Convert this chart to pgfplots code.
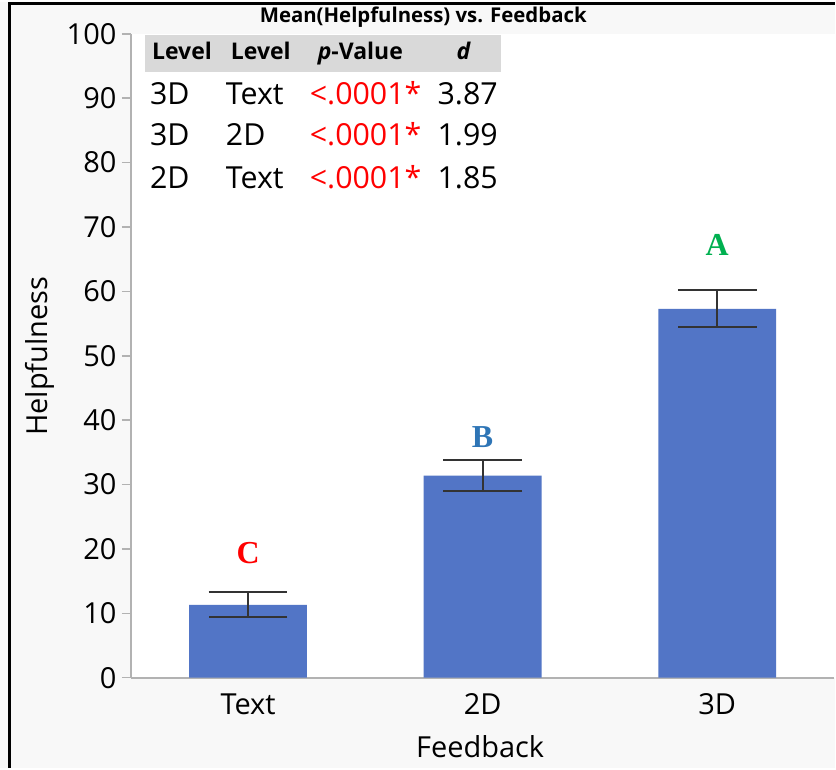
\documentclass[border=0pt]{standalone}
\usepackage{fontspec}
\setmainfont{Open Sans}
\newfontfamily\serifbf{Liberation Serif}
\usepackage{pgfplots}
\usepackage{pgfplotstable}
\pgfplotsset{compat=1.18}

\definecolor{barblue}{RGB}{82,117,198}
\definecolor{bggray}{RGB}{248,248,248}
\definecolor{axgray}{RGB}{178,178,178}
\definecolor{hdrgray}{RGB}{217,217,217}
\definecolor{pred}{RGB}{255,0,0}
\definecolor{lblue}{RGB}{46,117,182}
\definecolor{lgreen}{RGB}{0,176,80}

% mean helpfulness and half-width of error bar
\pgfplotstableread{
x val err
0 11.3 1.95
1 31.4 2.45
2 57.3 2.85
}\helpdata

\newcommand{\lbl}{\fontsize{14.5}{17}\selectfont}
\newcommand{\tbl}{\fontsize{15.2}{18}\selectfont}

\begin{document}
\begin{tikzpicture}
% frame and backgrounds, in pixel units of the reference
\begin{scope}[x=0.5pt,y=-0.5pt,shift={(-131,-677)}]
  \fill[bggray] (0,0) rectangle (836,767);
  \fill[white] (131,32) rectangle (836,677);
  \fill[hdrgray] (145,33) rectangle (502,70.5);
  \draw[black,line width=1.5pt] (9.5,767) -- (9.5,1.5) -- (836,1.5);
  \node[font=\bfseries\fontsize{10.2}{12}\selectfont] at (424,15) {Mean(Helpfulness) vs. Feedback};
\end{scope}

\begin{axis}[
  scale only axis,
  width=352.5pt, height=322.5pt,
  xmin=-0.5, xmax=2.5,
  ymin=0, ymax=100,
  axis lines*=left,
  axis line style={axgray, line width=1pt, -},
  xtick={0,1,2},
  xticklabels={Text,2D,3D},
  ytick={0,10,...,100},
  tick align=outside,
  major tick length=4.5pt,
  x tick style={draw=none},
  y tick style={axgray, line width=0.8pt},
  ticklabel style={font=\lbl},
  yticklabel style={inner xsep=2.5pt},
  /pgf/number format/assume math mode=true,
  ybar, bar width=59pt,
  clip=false,
]
\addplot[fill=barblue, draw=none,
  error bars/.cd, y dir=both, y explicit,
  error bar style={line width=1pt, black!80},
  error mark options={rotate=90, mark size=19.75pt, line width=1pt, black!80}]
  table[x=x, y=val, y error=err] {\helpdata};

\node[font=\serifbf\bfseries\fontsize{16}{18}\selectfont, text=pred] at (axis cs:0,19.4) {C};
\node[font=\serifbf\bfseries\fontsize{16}{18}\selectfont, text=lblue] at (axis cs:1,37.3) {B};
\node[font=\serifbf\bfseries\fontsize{16}{18}\selectfont, text=lgreen] at (axis cs:2,67.2) {A};
\end{axis}

% axis titles and comparison table
\begin{scope}[x=0.5pt,y=-0.5pt,shift={(-131,-677)}, every node/.style={inner sep=0pt}]
  \node[font=\lbl, rotate=90] at (40,355) {Helpfulness};
  \node[font=\lbl, anchor=base] at (481,757) {Feedback};

  \begin{scope}[every node/.append style={anchor=base west, font=\bfseries\fontsize{11.5}{13}\selectfont}]
    \node at (152,58) {Level};
    \node at (231,58) {Level};
    \node at (318,58) {\itshape p\upshape-Value};
    \node at (457,58) {\itshape d};
  \end{scope}

  \begin{scope}[every node/.append style={anchor=base west, font=\tbl}]
    \node at (150,103) {3D};
    \node at (226,103) {Text};
    \node[text=pred] at (310,103) {<.0001*};
    \node at (438,103) {3.87};
    \node at (150,144) {3D};
    \node at (226,144) {2D};
    \node[text=pred] at (310,144) {<.0001*};
    \node at (438,144) {1.99};
    \node at (150,187) {2D};
    \node at (226,187) {Text};
    \node[text=pred] at (310,187) {<.0001*};
    \node at (438,187) {1.85};
  \end{scope}
\end{scope}
\end{tikzpicture}
\end{document}
